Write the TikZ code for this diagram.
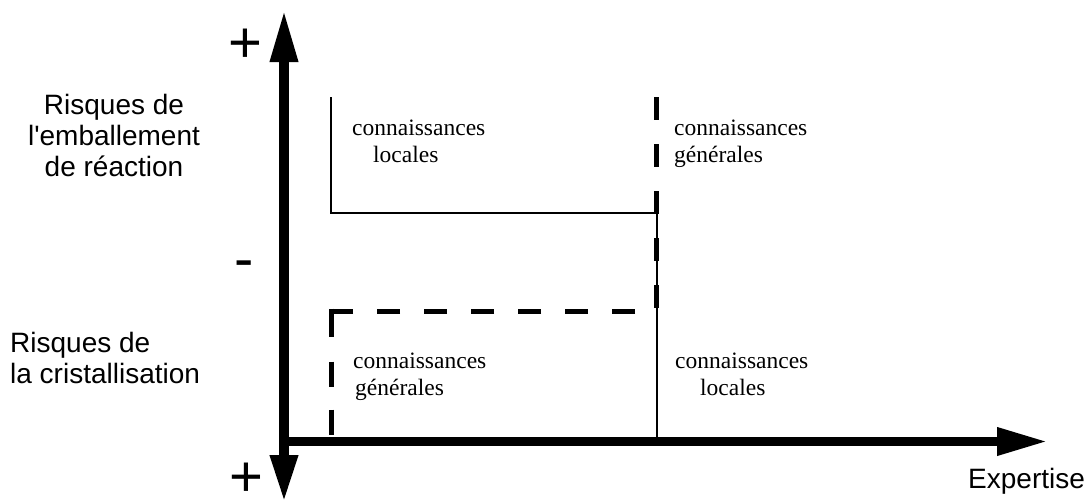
\documentclass[tikz,border=0pt]{standalone}
\usepackage{fontspec}
\setmainfont{Liberation Serif}
\newfontfamily\labelfont{Liberation Sans}
\usetikzlibrary{arrows.meta}

\begin{document}
\begin{tikzpicture}[x=1pt,y=-1pt,
  axis/.style={line width=9.5pt},
  thinline/.style={line width=2pt},
  thickdash/.style={line width=5pt},
  sanslabel/.style={font=\labelfont\fontsize{28}{31}\selectfont, inner sep=0pt},
  serifnote/.style={font=\fontsize{23.5}{27}\selectfont, inner sep=0pt, align=left, anchor=base west},
  signlabel/.style={font=\labelfont\fontsize{58}{60}\selectfont, inner sep=0pt, anchor=base}]
\useasboundingbox (0,0) rectangle (1091,503);

% axes
\coordinate (O) at (284,441.5);
\coordinate (ytop) at (284,10);
\coordinate (ybot) at (284,502);
\coordinate (xend) at (1048,441.5);
\draw[axis,{Triangle[length=47pt,width=26pt]}-{Triangle[length=52pt,width=26pt]}] (ybot) -- (ytop);
\draw[axis,-{Triangle[length=51pt,width=26pt]}] (O) -- (xend);

% solid thin boundary
\coordinate (s1) at (331,97);
\coordinate (s2) at (331,213);
\coordinate (s3) at (657,213);
\coordinate (s4) at (657,437);
\draw[thinline] (s1) -- (s2) -- (s3) -- (s4);

% dashed thick boundary
\coordinate (d1) at (656,97);
\coordinate (d2) at (656,311);
\coordinate (d3) at (331,311);
\coordinate (d3b) at (331,308.5);
\coordinate (d4) at (331,435);
\draw[thickdash, dash pattern=on 23pt off 24pt] (d1) -- (d2) -- (d3);
\draw[thickdash, dash pattern=on 28.5pt off 24.5pt on 25pt off 23pt on 25pt] (d3b) -- (d4);

% left labels (base anchor = baseline of last line)
\node[sanslabel, align=center, anchor=base] (riskA) at (114,176) {Risques de\\l'emballement\\de réaction};
\node[sanslabel, align=left, anchor=base west] (riskB) at (10,383) {Risques de\\la cristallisation};
\node[sanslabel, anchor=base west] (expertise) at (968,488) {Expertise};

% signs
\node[signlabel] (plusTop) at (245,63) {+};
\node[signlabel] (minus) at (244.5,278) {-};
\node[signlabel] (plusBot) at (246,496) {+};

% region notes
\node[serifnote] (locA) at (352,162) {connaissances\\\hspace*{21pt}locales};
\node[serifnote] (genA) at (674,162) {connaissances\\générales};
\node[serifnote] (genB) at (353,395) {connaissances\\\hspace*{2pt}générales};
\node[serifnote] (locB) at (675,395) {connaissances\\\hspace*{25pt}locales};
\end{tikzpicture}
\end{document}
